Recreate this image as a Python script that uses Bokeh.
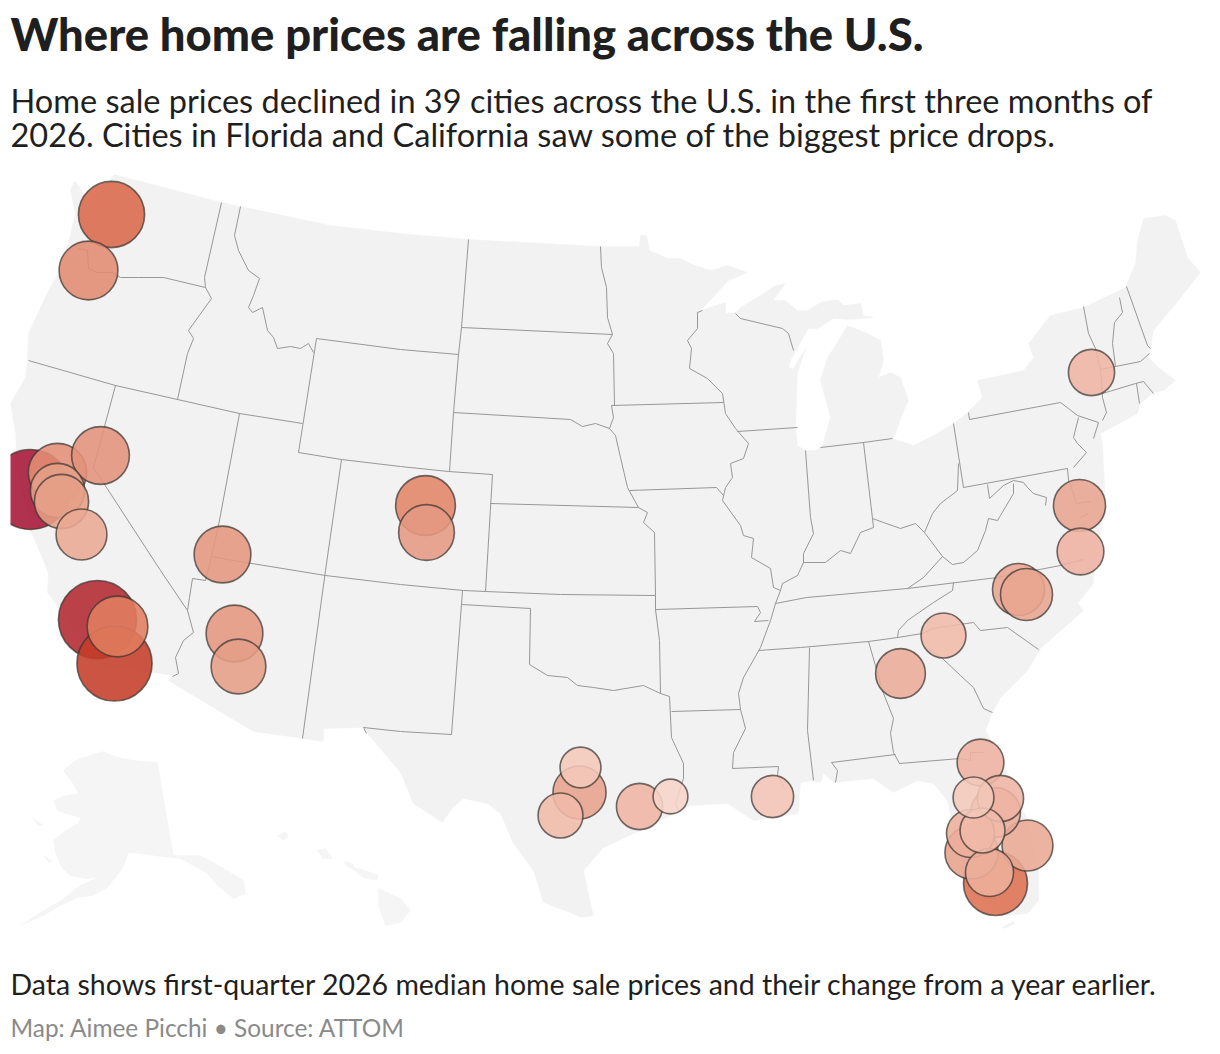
from bokeh.core.properties import value
from bokeh.embed import file_html
from bokeh.resources import INLINE
from bokeh.plotting import figure
from bokeh.models import ColumnDataSource

# ---- texts ----
title_text = "Where home prices are falling across the U.S."
subtitle_lines = ["Home sale prices declined in 39 cities across the U.S. in the first three months of",
                  "2026. Cities in Florida and California saw some of the biggest price drops."]
note_text = "Data shows first-quarter 2026 median home sale prices and their change from a year earlier."
credit_text = "Map: Aimee Picchi  \u2022  Source: ATTOM"

# ---- map geometry, in projected map units ----
lower48 = [(74,181),(80,188),(86,200),(100,190),(114,174),(221,202),(240,206),(330,225),(400,233),(468,239),(600,246),
 (639,246),(640,235),(646,235),(649,250),(667,258),(680,258),(692,264),(710,270),(727,265),(747,272),(728,280),(700,310),
 (725,302),(725,313),(735,312),(740,307),(763,293),(775,285),(785,283),(773,300),(785,300),(797,310),(807,310),(820,302),(837,299),(843,305),
 (860,303),(863,315),(873,317),(850,319),(833,318),(817,328),(808,328),(800,342),(790,360),(788,367),(793,368),(805,348),(797,372),(795,427),(797,445),(805,450),
 (815,450),(822,445),(830,417),(824,395),(820,380),(827,357),(835,345),(847,325),(867,333),(880,340),(883,360),(878,377),(890,372),(900,377),(908,400),(902,413),(895,433),(892,438),
 (913,445),(933,435),(953,423),(967,412),(982,397),(977,380),(1000,375),(1023,370),(1033,357),(1028,343),(1050,315),(1083,307),
 (1125,287),(1135,263),(1137,240),(1143,218),(1165,215),(1175,220),(1187,257),(1200,272),(1188,287),(1178,300),(1153,330),
 (1150,347),(1148,357),(1158,367),(1175,380),(1163,390),(1153,392),(1140,403),(1137,413),(1100,433),(1102,443),(1103,463),
 (1105,507),(1100,533),(1093,577),(1093,583),(1077,603),(1083,610),(1057,633),(1040,648),(1027,670),(1000,697),(992,712),
 (985,730),(1003,763),(1027,820),(1038,870),(1038,900),(1027,913),(1000,915),(963,883),(947,800),(933,783),(917,780),(893,792),(873,778),
 (833,782),(823,773),(820,782),(810,780),(800,782),(798,813),(773,817),(753,820),(727,803),(690,805),(640,830),(603,847),(583,870),
 (590,903),(593,915),(582,917),(543,902),(533,870),(513,843),(500,813),(487,803),(463,798),(452,807),(442,822),(413,803),(400,772),
 (367,733),(363,727),(323,728),(323,741),(302,738),(253,731),(168,680),(172,675),(160,673),(100,665),(47,592),(48,573),(43,560),(30,530),
 (17,470),(15,433),(10,403),(25,377),(27,360),(28,333),(48,290),(60,270),(68,242),(75,213),(70,190)]
alaska = [(102,751),(118,757),(133,760),(157,762),(165,810),(173,855),(187,855),(200,855),(220,866),(243,880),(245,893),(233,898),(215,883),(207,873),(180,858),(160,856),(140,853),(128,852),
 (122,868),(107,887),(92,895),(77,897),(60,905),(43,915),(20,925),(35,915),(60,900),(80,885),(97,877),(85,878),(70,875),(62,868),(55,853),(53,840),(65,830),(78,823),(80,817),(65,813),(57,810),
 (53,800),(62,796),(78,793),(72,782),(63,770),(72,762),(80,758)]
alaska_isle_a = [(32,817),(43,825),(38,825)]
alaska_isle_b = [(43,855),(52,860),(48,862)]
hawaii_big = [(378,888),(400,898),(410,910),(400,922),(385,925),(378,905)]
hawaii_maui = [(350,866),(365,870),(378,875),(376,880),(362,877)]
hawaii_oahu = [(343,861),(352,863),(355,870),(347,866)]
hawaii_kauai = [(317,850),(325,848),(332,858),(322,858)]
hawaii_niihau = [(277,835),(285,831),(288,836),(283,840)]
florida_keys = [(1002,927),(1013,921),(1014,923),(1004,928)]
mainland_shapes = [lower48, florida_keys]
far_shapes = [alaska, alaska_isle_a, alaska_isle_b, hawaii_big, hawaii_maui, hawaii_oahu, hawaii_kauai, hawaii_niihau]

state_borders = [
 [(221,202),(204,277),(205,287),(211,298),(188,330),(193,338),(187,353),(177,399)],
 [(78,248),(87,250),(88,268),(97,272),(112,272),(120,277),(138,277),(163,277),(205,287)],
 [(28,360),(115,385),(177,399),(239,413),(302,423)],
 [(240,206),(234,235),(238,250),(248,270),(259,278),(253,295),(248,307),(252,312),(262,307),(267,330),(273,337),(277,348),(290,346),(300,348),(308,343),(313,352)],
 [(316,338),(298,452),(341,459),(400,466),(448,471),(492,474),(485,591)],
 [(316,338),(400,349),(458,354)],
 [(239,413),(218,525),(210,560),(205,580),(192,578),(189,597),(187,610),(193,632),(183,640),(175,657),(178,673),(172,676)],
 [(115,385),(93,467),(160,570),(187,610)],
 [(212,556),(233,560),(325,575),(400,584),(463,590),(485,591),(560,594),(655,595)],
 [(341,459),(325,570),(302,738)],
 [(462,590),(461,604),(451,734),(400,731),(363,727),(366,733)],
 [(461,604),(530,608),(529,664),(547,675),(567,677),(577,685),(593,687),(613,690),(643,685),(660,693),(669,696),(671,737),(683,763),(683,778),(675,803),(678,810)],
 [(468,239),(461,327),(458,354),(453,412),(449,471)],
 [(461,327),(612,334)],
 [(453,412),(570,419),(582,426),(595,423),(609,428)],
 [(490,503),(638,507)],
 [(600,246),(601,267),(606,287),(607,317),(612,334),(607,343),(613,353),(614,405)],
 [(611,405),(723,402)],
 [(611,405),(613,417),(609,428),(615,435),(620,457),(627,487),(638,507),(647,512),(643,522),(654,532),(655,595),(655,609),(659,640),(660,693)],
 [(629,490),(716,487),(723,495)],
 [(702,310),(697,312),(697,328),(687,340),(691,348),(689,368),(707,378),(722,393),(725,413),(735,428)],
 [(737,431),(797,427)],
 [(735,313),(740,318),(782,328),(788,333),(793,350)],
 [(735,428),(748,443),(743,458),(730,463),(732,477),(725,487),(722,500),(740,525),(743,535),(753,538),(751,557),(770,568),(773,587),(780,590),(775,603),(770,620),(760,647),(743,677),(738,693),(740,709),(745,728),(733,752),(732,768),(778,766),(777,775),(785,790)],
 [(655,609),(757,606),(760,612),(754,621),(768,620)],
 [(671,711),(740,709)],
 [(775,603),(806,597),(907,588),(997,577),(1060,565),(1083,559)],
 [(805,450),(810,517),(813,533),(803,553),(803,562)],
 [(780,590),(782,583),(797,575),(803,562),(825,562),(840,550),(850,553),(860,532),(873,527),(872,518),(883,522),(900,528),(915,523),(924,532),(932,513),(940,503),(957,490),(958,463)],
 [(863,442),(872,518)],
 [(820,447),(863,442),(892,438)],
 [(953,423),(963,487),(1067,468),(1068,480),(1072,490),(1076,503),(1090,501)],
 [(968,412),(969,419),(1060,402),(1068,408),(1077,415),(1098,422),(1093,438)],
 [(1078,417),(1073,437),(1077,443),(1086,452),(1073,467)],
 [(1080,517),(1088,513)],
 [(987,484),(989,498),(1003,485),(1013,480),(1023,482),(1027,487),(1033,493),(1046,497),(1045,505)],
 [(1013,483),(1013,493),(1000,515),(997,520),(988,518),(985,530),(977,550),(963,562),(952,564),(942,556),(924,532)],
 [(942,556),(923,577),(907,588)],
 [(953,582),(952,590),(933,602),(907,620),(898,630),(897,637)],
 [(758,650),(800,647),(868,641),(897,637),(922,633),(932,628),(973,622),(980,630),(1007,627),(1038,649)],
 [(928,648),(942,658),(960,675),(973,687),(983,708),(992,712)],
 [(868,641),(883,693),(893,718),(890,733),(893,752),(899,763),(960,758),(970,760),(970,752),(983,752)],
 [(895,754),(831,762),(837,770),(835,782)],
 [(809,647),(807,730),(813,780)],
 [(1083,306),(1088,333),(1095,348),(1100,370),(1102,397),(1106,412),(1102,420)],
 [(1100,369),(1115,366),(1140,361),(1149,353)],
 [(1102,393),(1135,383),(1143,381),(1153,393)],
 [(1136,383),(1139,403)],
 [(1119,297),(1122,312),(1114,322),(1112,343),(1115,366)],
 [(1126,286),(1147,345),(1150,348)],
]

# ---- cities: map position and drop in median sale price, percent ----
city_x = [30,97,114,111,995,117,425,88,57,100,222,234,426,57,61,238,579,971,81,1018,1026,1079,1027,900,995,639,970,989,1080,980,1000,1091,560,943,982,772,973,580,670]
city_y = [489,619,663,214,883,626,505,270,472,455,554,633,532,490,501,666,792,852,534,589,594,505,845,673,812,806,833,872,551,762,798,372,815,635,830,796,797,767,796]
city_drop = [11.1,10.6,9.8,7.6,7.1,6.4,6.2,6.0,5.9,5.8,5.6,5.6,5.4,5.1,5.1,5.2,4.9,4.9,4.5,4.7,4.7,4.7,4.5,4.3,4.3,3.7,4.0,4.0,3.8,3.8,3.7,3.7,3.5,3.5,3.5,3.1,2.9,2.9,2.1]

# colour scale stops (percent drop -> colour)
scale_drop = [2.0, 3.0, 3.8, 4.8, 5.8, 6.4, 7.3, 9.8, 10.6, 11.1]
scale_rgb = [(246,214,203),(243,198,184),(238,178,160),(231,164,142),(227,146,122),(224,125,94),(220,110,78),(196,60,40),(178,40,48),(166,22,54)]

def drop_colour(d):
    for i in range(len(scale_drop) - 1):
        if d <= scale_drop[i + 1]:
            t = (d - scale_drop[i]) / (scale_drop[i + 1] - scale_drop[i])
            a, b = scale_rgb[i], scale_rgb[i + 1]
            return "#%02x%02x%02x" % tuple(round(a[k] + (b[k] - a[k]) * t) for k in range(3))
    return "#%02x%02x%02x" % scale_rgb[-1]

p = figure(width=1212, height=1046, x_range=(10, 1212), y_range=(1046, 0),
           output_backend="svg", toolbar_location=None,
           min_border_left=10, min_border_right=0, min_border_top=0, min_border_bottom=0)
p.axis.visible = False
p.grid.visible = False
p.outline_line_color = None
p.background_fill_color = "white"
p.border_fill_color = "white"

p.patches([[c[0] for c in s] for s in far_shapes], [[c[1] for c in s] for s in far_shapes],
          fill_color="#f5f5f5", line_color="#f5f5f5", line_width=0.5)
p.patches([[c[0] for c in s] for s in mainland_shapes], [[c[1] for c in s] for s in mainland_shapes],
          fill_color="#f2f2f2", line_color="#f2f2f2", line_width=0.5)
p.multi_line([[c[0] for c in s] for s in state_borders], [[c[1] for c in s] for s in state_borders],
             line_color="#8c8c8c", line_width=0.9)

src = ColumnDataSource(dict(x=city_x, y=city_y,
                            r=[12 * d ** 0.5 for d in city_drop],
                            c=[drop_colour(d) for d in city_drop]))
p.circle(x="x", y="y", radius="r", source=src, fill_color="c", fill_alpha=0.88,
         line_color="#3a3532", line_alpha=0.72, line_width=1.6)

font = value("Lato")
p.text([10], [60], text=[title_text], text_font=value("Lato Black"), text_font_style="bold",
       text_font_size="45.4px", text_color="#1f1f1f")
p.text([10, 10], [119, 153], text=subtitle_lines, text_font=font,
       text_font_size="32.5px", text_color="#1f1f1f")
p.text([10], [1000], text=[note_text], text_font=font,
       text_font_size="28.5px", text_color="#1f1f1f")
p.text([10], [1041], text=[credit_text], text_font=font,
       text_font_size="24.4px", text_color="#8a8a8a")

open("out.html", "w").write(file_html(p, INLINE))
